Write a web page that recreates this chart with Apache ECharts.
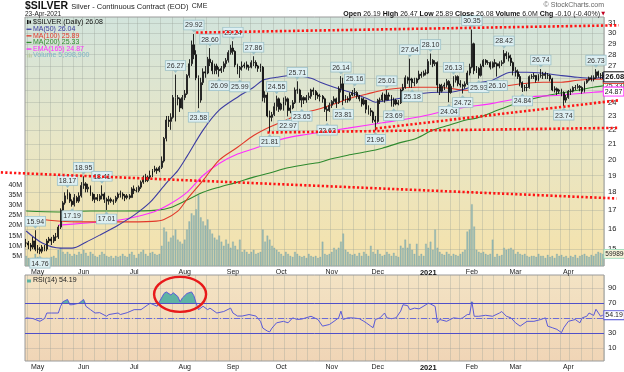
<!DOCTYPE html>
<html><head><meta charset="utf-8">
<script src="https://cdn.jsdelivr.net/npm/echarts@6/dist/echarts.min.js"></script>
<style>html,body{margin:0;padding:0;background:#fff}#c{width:624px;height:372px}</style>
</head><body><div id="c"></div>
<script>
// ---------- DATA ----------
const holidays = ['2020-05-25','2020-07-03','2020-09-07','2020-11-26','2020-12-25','2021-01-01','2021-01-18','2021-02-15','2021-04-02'];
const firstDay = '2020-04-24', lastDay = '2021-04-23';
const monthNames = ['2021','Feb','Mar','Apr','May','Jun','Jul','Aug','Sep','Oct','Nov','Dec'];
const priceTicks = [15,16,17,18,19,20,21,22,23,24,25,26,27,28,29,30,31];
const volumeTicks = [5,10,15,20,25,30,35,40];
const rsiTicks = [10,30,50,70,90];

// daily [open, close, low, high]
const ohlc = [
[15.3,15.3,15.1,15.5],[15.3,15.2,15.0,15.4],[15.2,15.1,14.9,15.3],[15.1,15.4,15.0,15.6],[15.4,15.0,14.9,15.94],[15.0,15.0,14.8,15.2],[15.0,14.9,14.76,15.1],[14.9,15.1,14.8,15.2],[15.1,15.0,14.9,15.2],[15.0,15.4,14.9,15.5],
[15.4,15.5,15.3,15.6],[15.5,15.4,15.2,15.6],[15.4,15.6,15.3,15.7],[15.6,15.6,15.4,15.8],[15.6,16.1,15.5,16.2],[16.1,17.0,16.0,17.1],[17.0,17.4,16.9,17.5],[17.4,17.8,17.3,18.0],[17.8,17.9,17.6,18.17],[17.9,17.5,17.4,18.0],
[17.5,17.3,17.19,17.6],[17.3,17.7,17.2,17.9],[17.7,17.5,17.4,17.8],[17.5,17.8,17.4,18.0],[17.8,18.4,17.7,18.6],[18.4,18.5,18.2,18.95],[18.5,18.2,18.0,18.6],[18.2,18.3,18.0,18.5],[18.3,17.9,17.8,18.4],[17.9,17.6,17.5,18.0],
[17.6,17.7,17.4,17.9],[17.7,17.6,17.5,17.9],[17.6,17.8,17.5,17.9],[17.8,17.9,17.6,18.41],[17.9,17.6,17.4,18.0],[17.6,17.5,17.01,17.7],[17.5,17.6,17.3,17.8],[17.6,17.5,17.4,17.7],[17.5,17.5,17.3,17.6],[17.5,17.7,17.4,17.8],
[17.7,17.9,17.6,18.0],[17.9,17.9,17.7,18.1],[17.9,17.8,17.6,18.0],[17.8,17.7,17.5,17.9],[17.7,17.8,17.6,17.9],[17.8,17.7,17.6,17.9],[17.7,18.2,17.7,18.3],[18.2,18.1,17.9,18.4],[18.1,18.1,18.0,18.3],[18.1,18.3,18.0,18.4],
[18.3,18.6,18.2,18.7],[18.6,18.9,18.5,19.0],[18.9,18.7,18.6,19.1],[18.7,18.9,18.6,19.0],[18.9,19.0,18.8,19.3],[19.0,19.3,18.9,19.4],[19.3,19.4,19.2,19.6],[19.4,19.3,19.1,19.5],[19.3,19.5,19.2,19.6],[19.5,19.9,19.4,20.2],
[19.9,21.4,19.8,21.5],[21.4,22.7,21.2,23.0],[22.7,22.6,22.2,23.0],[22.6,22.9,22.0,23.2],[22.9,24.4,22.8,24.6],[24.4,24.4,22.6,26.27],[24.4,24.3,23.8,24.6],[24.3,23.6,23.3,24.4],[23.6,24.4,23.5,24.6],[24.4,24.7,24.2,25.0],
[24.7,26.2,24.6,26.3],[26.2,27.2,26.0,27.6],[27.2,28.9,27.0,29.3],[28.9,28.0,27.6,29.92],[28.0,26.0,25.8,28.4],[26.0,24.2,23.58,26.2],[24.2,25.6,24.0,26.0],[25.6,26.5,25.4,26.8],[26.5,26.4,26.0,27.0],[26.4,27.6,26.3,27.8],
[27.6,27.3,27.0,28.6],[27.3,26.6,26.3,27.5],[26.6,27.0,26.3,27.2],[27.0,26.7,26.3,27.2],[26.7,26.6,26.09,26.9],[26.6,26.8,26.4,27.0],[26.8,27.2,26.5,27.4],[27.2,27.5,26.9,27.7],[27.5,28.2,27.3,28.4],[28.2,28.6,28.0,28.9],
[28.6,28.3,28.0,29.24],[28.3,27.1,26.9,28.4],[27.1,26.7,26.3,27.2],[26.7,26.9,25.99,27.0],[26.9,27.0,26.6,27.4],[27.0,27.1,26.8,27.3],[27.1,26.9,26.7,27.4],[26.9,26.9,26.6,27.1],[26.9,27.3,26.8,27.5],[27.3,27.3,27.0,27.86],
[27.3,27.0,26.8,27.5],[27.0,26.8,26.5,27.1],[26.8,26.9,26.5,27.2],[26.9,24.4,24.1,27.0],[24.4,24.6,24.0,24.9],[24.6,23.0,22.9,24.8],[23.0,22.9,21.81,23.4],[22.9,23.1,22.6,23.3],[23.1,23.7,23.0,24.0],[23.7,24.3,23.4,24.55],
[24.3,23.5,23.3,24.4],[23.5,23.9,23.4,24.0],[23.9,24.1,23.4,24.4],[24.1,24.3,23.8,24.5],[24.3,23.4,22.97,24.4],[23.4,23.6,23.2,23.8],[23.6,24.0,23.5,24.2],[24.0,25.0,23.9,25.2],[25.0,25.0,24.7,25.71],[25.0,24.2,24.0,25.1],
[24.2,24.4,23.65,24.6],[24.4,24.2,23.9,24.5],[24.2,24.4,24.0,24.6],[24.4,24.5,24.2,24.8],[24.5,25.0,24.3,25.1],[25.0,24.9,24.6,25.2],[24.9,24.6,24.2,25.0],[24.6,24.5,24.3,24.8],[24.5,24.5,24.1,24.7],[24.5,24.3,24.0,24.6],
[24.3,23.5,23.3,24.4],[23.5,23.4,22.62,23.7],[23.4,23.8,23.3,24.0],[23.8,24.1,23.6,24.2],[24.1,24.3,23.9,24.5],[24.3,24.0,23.6,24.4],[24.0,25.1,23.9,25.3],[25.1,25.5,24.8,26.14],[25.5,24.2,23.81,26.0],[24.2,24.3,24.0,24.6],
[24.3,24.2,24.0,24.5],[24.2,24.6,24.1,24.8],[24.6,24.8,24.5,25.0],[24.8,24.8,24.5,25.16],[24.8,24.5,24.3,24.9],[24.5,24.3,24.1,24.6],[24.3,23.9,23.7,24.4],[23.9,24.2,23.8,24.4],[24.2,23.5,23.2,24.2],[23.5,23.4,23.1,23.8],
[23.4,23.3,23.0,23.6],[23.3,22.7,22.5,23.4],[22.7,22.6,21.96,23.0],[22.6,24.2,22.5,24.3],[24.2,24.2,23.9,24.4],[24.2,24.6,24.1,24.8],[24.6,24.2,24.0,24.7],[24.2,24.6,24.2,25.01],[24.6,24.5,24.2,24.8],[24.5,23.9,23.7,24.6],
[23.9,24.2,23.69,24.4],[24.2,23.9,23.8,24.3],[23.9,24.0,23.8,24.2],[24.0,25.0,23.9,25.1],[25.0,25.2,24.9,25.5],[25.2,26.0,25.1,26.2],[26.0,25.8,25.5,26.1],[25.8,25.9,25.2,27.64],[25.9,25.6,25.18,26.0],[25.6,25.6,25.3,26.0],
[25.6,25.9,25.5,26.0],[25.9,26.3,25.8,26.6],[26.3,26.2,26.0,26.5],[26.2,26.4,26.1,26.6],[26.4,26.4,26.2,26.7],[26.4,27.4,26.3,27.6],[27.4,27.5,27.1,28.1],[27.5,27.2,26.9,27.6],[27.2,27.3,27.0,27.5],[27.3,25.4,24.8,27.4],
[25.4,24.9,24.6,25.5],[24.9,25.3,24.8,25.5],[25.3,25.4,25.0,25.6],[25.4,25.7,25.2,25.9],[25.7,24.8,24.04,25.8],[24.8,25.3,24.7,25.5],[25.3,25.8,25.2,26.13],[25.8,26.1,25.6,26.2],[26.1,25.5,25.3,26.2],[25.5,25.4,25.2,25.8],
[25.4,25.3,24.72,25.5],[25.3,25.5,25.1,25.7],[25.5,26.4,25.4,26.6],[26.4,26.9,26.2,27.2],[26.9,29.0,26.8,30.35],[29.0,26.6,26.3,29.1],[26.6,26.8,26.4,27.0],[26.8,26.2,25.93,26.9],[26.2,27.0,26.1,27.2],[27.0,27.5,26.9,27.6],
[27.5,27.3,27.1,27.6],[27.3,27.3,27.1,27.5],[27.3,26.9,26.7,27.4],[26.9,27.3,26.8,27.4],[27.3,27.2,26.9,27.6],[27.2,27.0,26.1,27.3],[27.0,27.2,26.8,27.4],[27.2,27.3,27.0,27.5],[27.3,28.1,27.2,28.42],[28.1,27.9,27.6,28.3],
[27.9,27.7,27.4,28.2],[27.7,27.3,27.0,28.0],[27.3,26.6,26.2,27.4],[26.6,26.5,26.1,26.9],[26.5,26.1,25.9,26.7],[26.1,25.6,25.3,26.3],[25.6,25.2,24.84,25.7],[25.2,25.2,24.9,25.4],[25.2,25.2,24.9,25.5],[25.2,26.1,25.1,26.2],
[26.1,26.1,25.9,26.3],[26.1,26.2,25.9,26.4],[26.2,25.8,25.6,26.2],[25.8,26.2,25.7,26.3],[26.2,26.2,26.0,26.74],[26.2,26.3,25.9,26.5],[26.3,26.2,25.9,26.5],[26.2,26.2,25.9,26.4],[26.2,25.9,25.7,26.3],[25.9,25.0,24.9,26.0],
[25.0,25.1,24.8,25.3],[25.1,24.9,24.6,25.2],[24.9,25.0,24.7,25.1],[25.0,24.8,24.5,25.1],[24.8,24.2,23.74,24.9],[24.2,24.4,24.0,24.6],[24.4,24.9,24.3,25.0],[24.9,24.9,24.6,25.1],[24.9,25.2,24.8,25.3],[25.2,25.2,25.0,25.4],
[25.2,25.3,25.1,25.5],[25.3,25.2,24.9,25.4],[25.2,24.9,24.7,25.3],[24.9,25.6,24.8,25.7],[25.6,25.8,25.5,25.9],[25.8,26.0,25.7,26.1],[26.0,25.9,25.7,26.2],[25.9,26.0,25.7,26.2],[26.0,26.5,25.9,26.73],[26.5,26.2,26.0,26.6],
[26.2,26.2,25.9,26.4],[26.19,26.08,25.89,26.47]
];

// volume, millions
const volume = [
5,4,3.5,4,6,4.5,3.5,4,3,4,
3.5,4.5,5,4,8,9,7,6,7,6,
5,6,5.5,7,6,8,6.5,5,7,6,
5,4.5,5.5,7,6,5,4.5,5,4,5,
4.5,5,6,5,4.5,6,7,5.5,4,6,
7,8,6,5,6.5,7,6,5.5,6,10,
19,17,12,14,15,18,13,12,11,13,
18,22,26,25,28,35,24,22,20,23,
18,16,14,13,15,12,10,13,11,9,
12,10,8,13,7,8,7,6,7,8,
6,6.5,7,18,12,15,13,10,9,8,
7,6,5,7,6,5,4.5,7,6,5,
4.5,5,4,6,5,4.5,5,4,4.5,12,
6,5.5,6,7,9,8,9,12,16,8,
7,6,5.5,6,5,6.5,5,7,6,5,
10,7,6,8,6,5,5.5,7,6,5,
6.5,5,4.5,10,9,13,9,11,8,6,
11,5,6,5,11,9,12,8,18,9,
7,6,5.5,7,6,5,6,5.5,5,6,
7,8,17,18,30.5,19.5,8,7,6.5,7,
6,5.5,6,13,4.5,6,5,5.5,9,8,
8.5,9,8,6,7,6,5.5,6,5,4.5,
5,5,4.5,6,5,5,4,5.5,4.5,5,
4,6,5,5.5,4.5,5,4,5,4.5,5.5,
4,5,5.5,6,5,4.5,5.5,5,6,7,
6.5,6
];

// moving averages: [bar index, value]
const ma50 = [[0,15.9],[7,15.3],[15,15.05],[20,15.05],[26,15.34],[32,15.69],[40,16.2],[47,16.73],[54,17.44],[61,18.54],[66,19.3],[70,20.2],[77,21.98],[84,23.43],[92,24.43],[99,25.22],[103,25.8],[109,26.04],[116,26.21],[124,25.96],[128,25.63],[134,25.22],[141,24.82],[148,24.35],[152,24.04],[158,24.19],[165,24.43],[173,24.74],[180,24.82],[184,24.82],[192,25.14],[196,25.55],[203,25.8],[211,26.47],[218,26.47],[225,26.38],[232,26.21],[240,26.04],[247,25.96],[251,26.04]];
const ma100 = [[0,16.62],[10,16.46],[22,16.37],[40,16.37],[55,16.4],[60,16.5],[66,16.95],[70,17.6],[77,18.7],[84,19.96],[92,20.8],[99,21.6],[106,22.2],[113,22.69],[120,23.2],[127,23.5],[134,23.9],[141,24.35],[148,24.66],[155,24.98],[162,25.14],[170,25.22],[177,25.22],[184,25.14],[191,24.98],[196,24.98],[203,25.14],[211,25.39],[218,25.55],[225,25.63],[233,25.63],[240,25.8],[247,25.88],[251,25.89]];
const ma200 = [[0,16.95],[14,16.9],[28,16.95],[43,16.95],[57,17.0],[63,17.15],[70,17.56],[77,18.0],[84,18.3],[92,18.6],[99,18.9],[106,19.15],[113,19.45],[120,19.64],[128,19.83],[133,20.05],[140,20.28],[148,20.5],[155,20.74],[162,21.08],[170,21.42],[177,21.98],[184,22.33],[191,22.69],[196,22.84],[203,23.28],[211,23.81],[218,24.19],[225,24.5],[232,24.74],[240,24.98],[247,25.22],[251,25.33]];
const ema165 = [[14,16.2],[25,16.3],[40,16.46],[54,16.84],[62,17.3],[70,18.0],[77,19.0],[84,19.75],[92,20.35],[99,20.7],[106,21.1],[113,21.42],[120,21.63],[128,21.83],[140,22.12],[155,22.5],[170,22.9],[184,23.43],[191,23.65],[203,23.95],[218,24.43],[232,24.58],[247,24.82],[251,24.87]];

// RSI(14): [bar index, value]
const rsi = [[0,50.6],[3,49.6],[6,46],[8,49.6],[9,57],[11,57],[14,57],[15,66],[16,72],[18,75],[19,68],[20,68],[23,70],[25,75],[26,66],[28,61.5],[30,57],[32,57.5],[35,52.7],[36,55],[40,57],[41,55],[44,57.5],[47,61.5],[50,61.5],[53,68],[54,70],[57,66],[58,72],[60,83],[61,85],[63,81],[64,84],[66,79],[67,72],[68,77],[70,83],[72,85],[73,80],[74,70],[75,61.5],[77,66],[79,61.5],[80,63.5],[83,57],[86,59],[89,63.5],[90,57],[92,53],[94,53],[97,55],[100,53],[102,46],[103,37],[105,33],[106,32],[107,37],[109,44],[112,46],[114,44],[116,50.6],[118,48.4],[120,49],[124,52.7],[127,48.4],[129,39.6],[132,41.8],[134,46],[136,50.6],[137,59.5],[138,48.4],[140,50.6],[142,50.6],[145,49.5],[147,46],[148,44],[150,39.6],[151,37.5],[152,48.4],[154,50.6],[156,57],[157,50.6],[159,49.5],[161,50.6],[163,59.5],[164,68],[166,66.9],[167,61.5],[169,63.5],[171,62.5],[174,68],[175,70],[176,69],[178,65.8],[179,44],[180,48.4],[183,46],[186,50.6],[189,49.5],[190,50.6],[192,55],[193,55],[194,72],[195,52.7],[197,52.7],[200,54],[203,52.7],[206,57],[207,59],[209,52.7],[211,50.6],[213,44],[215,39.6],[218,46],[221,46],[224,48.4],[226,50.6],[227,39.6],[229,37.5],[231,35.3],[233,31],[234,37.5],[236,46],[239,48.4],[241,44],[242,50.6],[244,52.7],[245,57],[247,53.8],[248,62],[250,52.7],[251,54.19]];

// labelled highs and lows: [bar index, price]
const highLabels = [[4,15.94],[18,18.17],[25,18.95],[33,18.41],[65,26.27],[73,29.92],[80,28.60],[90,29.24],[99,27.86],[109,24.55],[118,25.71],[137,26.14],[143,25.16],[157,25.01],[167,27.64],[176,28.10],[186,26.13],[194,30.35],[208,28.42],[224,26.74],[248,26.73]];
const lowLabels = [[6,14.76],[20,17.19],[35,17.01],[75,23.58],[84,26.09],[93,25.99],[106,21.81],[114,22.97],[120,23.65],[131,22.62],[138,23.81],[152,21.96],[160,23.69],[168,25.18],[184,24.04],[190,24.72],[197,25.93],[205,26.10],[216,24.84],[234,23.74]];

// hand-drawn trend lines: [[bar index, price], [bar index, price]]
const trendLines = [
  [[73.5,30.06],[258.4,30.77]],
  [[105.2,21.81],[258.4,22.14]],
  [[151.8,22.09],[258.4,24.19]],
  [[-11.4,19.19],[257.1,17.65]]
];
// red ellipse around overbought RSI: centre [bar index, RSI]
const ellipseCentre = [66.9, 81.8];

// ---------- BUILD ----------
function tradingDays(s, e){
  const out=[]; let d=new Date(s+'T00:00:00Z'); const end=new Date(e+'T00:00:00Z');
  while(d<=end){ const dow=d.getUTCDay(); const iso=d.toISOString().slice(0,10);
    if(dow!==0&&dow!==6&&holidays.indexOf(iso)<0) out.push(iso);
    d=new Date(d.getTime()+86400000);}
  return out;
}
const dates = tradingDays(firstDay, lastDay);
const dow = i => new Date(dates[i]+'T00:00:00Z').getUTCDay();
const isMonthStart = i => i>0 && dates[i].slice(5,7)!==dates[i-1].slice(5,7);
const isWeekStart = i => i>0 && dow(i) < dow(i-1);
const L = Math.log;
const fmtMonth = (v) => { const m = +v.slice(5,7); return m===1 ? '{y|2021}' : monthNames[m-1]; };

const FONT = 'Liberation Sans';
const C50='#3c3ca2', C100='#e2382a', C200='#2e8a2e', CEMA='#ff2cff', CVOL='#7fb4c6', CRSI='#5a5ad8';

const boxLabel = {show:true, fontSize:7, color:'#333', fontFamily:FONT, backgroundColor:'#ddeff2', borderColor:'#9cc0c6', borderWidth:0.8, padding:[1,1,0,1], lineHeight:8};
const markPts = [];
highLabels.forEach(([i,v])=>markPts.push({coord:[i,L(v)], symbol:'triangle', symbolSize:[5,3], symbolRotate:180, symbolOffset:[0,-3], itemStyle:{color:'#9cc0c6'}, label:Object.assign({},boxLabel,{position:'top',distance:0,formatter:v.toFixed(2)})}));
lowLabels.forEach(([i,v])=>markPts.push({coord:[i,L(v)], symbol:'triangle', symbolSize:[5,3], symbolOffset:[0,3], itemStyle:{color:'#9cc0c6'}, label:Object.assign({},boxLabel,{position:'bottom',distance:0,formatter:v.toFixed(2)})}));
const last = ohlc[ohlc.length-1];
markPts.push({coord:[ohlc.length-1, L(last[1])], symbol:'rect', symbolSize:1, itemStyle:{color:'rgba(0,0,0,0)'}, z:20,
  label:{show:true, position:'right', distance:1, formatter:last[1].toFixed(2), fontSize:7.5, fontWeight:'bold', color:'#111', fontFamily:FONT, backgroundColor:'#fff', borderColor:'#222', borderWidth:1, padding:[1,1,0,1]}});

const endLbl = (c, t) => ({show:true, formatter:t, distance:1, fontSize:7, color:'#222', fontFamily:FONT, backgroundColor:'#fff', borderColor:c, borderWidth:1, padding:[1,1,0,1]});
const maSeries = (name, data, c, t, z) => ({name, type:'line', xAxisIndex:0, yAxisIndex:0, data:data.map(([i,v])=>[i,L(v)]), showSymbol:false, symbol:'none', smooth:0.3, lineStyle:{color:c, width:1.1}, z, endLabel:endLbl(c,t), silent:true});

const weekLine = {show:true, interval:(idx)=>isWeekStart(idx), lineStyle:{color:'rgba(150,160,150,0.32)', width:1}};

const option = {
  animation:false,
  textStyle:{fontFamily:FONT},
  grid:[
    {left:25, right:20, top:17, height:249, show:true, borderColor:'#9a9a9a', borderWidth:1,
     backgroundColor:{type:'linear',x:0,y:0,x2:0,y2:1,colorStops:[{offset:0,color:'#d2e4dc'},{offset:0.5,color:'#e8e6c6'},{offset:1,color:'#f5e2ab'}]}},
    {left:25, right:20, top:275, height:87, show:true, borderColor:'#9a9a9a', borderWidth:1,
     backgroundColor:{type:'linear',x:0,y:0,x2:0,y2:1,colorStops:[{offset:0,color:'#f3e3c4'},{offset:1,color:'#f0d5b6'}]}}
  ],
  xAxis:[
    {type:'category', gridIndex:0, data:dates, boundaryGap:true, axisLine:{show:false}, axisTick:{show:false}, splitLine:weekLine,
     axisLabel:{interval:(idx)=>isMonthStart(idx), formatter:fmtMonth, fontSize:7, color:'#222', margin:3, rich:{y:{fontWeight:'bold',fontSize:7.5,color:'#111'}}}},
    {type:'category', gridIndex:1, data:dates, boundaryGap:true, axisLine:{show:false}, axisTick:{show:false}, splitLine:weekLine,
     axisLabel:{interval:(idx)=>isMonthStart(idx), formatter:fmtMonth, fontSize:7, color:'#222', margin:3, rich:{y:{fontWeight:'bold',fontSize:7.5,color:'#111'}}}}
  ],
  yAxis:[
    {type:'value', gridIndex:0, position:'right', min:L(14.21), max:L(31.6), axisLine:{show:false},
     axisTick:{show:false, customValues:priceTicks.map(L)},
     axisLabel:{customValues:priceTicks.map(L), formatter:v=>String(Math.round(Math.exp(v))), fontSize:7.5, color:'#222', margin:4},
     splitLine:{show:true, lineStyle:{color:'rgba(150,160,150,0.32)', width:1}}},
    {type:'value', gridIndex:0, position:'left', min:0, max:123, axisLine:{show:false}, axisTick:{show:false},
     axisLabel:{customValues:volumeTicks, formatter:v=>v+'M', fontSize:7, color:'#222', margin:3}, splitLine:{show:false}},
    {type:'value', gridIndex:1, position:'right', min:-6.7, max:107.5, axisLine:{show:false},
     axisTick:{show:false, customValues:rsiTicks},
     axisLabel:{customValues:rsiTicks, formatter:v=>Math.round(v)===50?'':String(Math.round(v)), fontSize:7.5, color:'#222', margin:4},
     splitLine:{show:true, lineStyle:{color:'rgba(150,150,150,0.3)', width:1}}}
  ],
  series:[
    {name:'Volume', type:'bar', xAxisIndex:0, yAxisIndex:1, data:volume, barWidth:'72%', z:1, silent:true,
     itemStyle:{color:'#97b9b3', borderColor:'#84a8a2', borderWidth:0.3},
     markPoint:{silent:true, data:[{coord:[volume.length-1, volume[volume.length-1]], symbol:'rect', symbolSize:1, itemStyle:{color:'rgba(0,0,0,0)'},
       label:{show:true, position:'right', distance:1, formatter:'5998900', fontSize:6.5, color:'#222', backgroundColor:'#f6f3da', borderColor:'#9db', borderWidth:0.8, padding:[1,1,0,1]}}]}},
    maSeries('MA(200)', ma200, C200, '25.33', 3),
    maSeries('EMA(165)', ema165, CEMA, '24.87', 3),
    maSeries('MA(100)', ma100, C100, '25.89', 3),
    maSeries('MA(50)', ma50, C50, '26.04', 3),
    {name:'SILVER', type:'candlestick', xAxisIndex:0, yAxisIndex:0, z:5, silent:true,
     data:ohlc.map(r=>r.map(L)), barWidth:'62%',
     itemStyle:{color:'#ffffff', color0:'#111111', borderColor:'#111111', borderColor0:'#111111', borderWidth:0.9},
     markPoint:{silent:true, z:10, data:markPts}},
    {name:'RSIfill', type:'line', xAxisIndex:1, yAxisIndex:2, data:rsi.map(([i,v])=>[i,Math.max(v,70)]), showSymbol:false, symbol:'none',
     lineStyle:{width:0, opacity:0}, areaStyle:{origin:70, color:'#5eb3a4', opacity:1}, z:2, silent:true},
    {name:'RSI', type:'line', xAxisIndex:1, yAxisIndex:2, data:rsi, showSymbol:false, symbol:'none', lineStyle:{color:CRSI, width:1}, z:4, silent:true,
     markLine:{silent:true, symbol:'none', label:{show:false}, data:[
       {yAxis:70, lineStyle:{color:'#5050c8', width:1, type:'solid'}},
       {yAxis:30, lineStyle:{color:'#5050c8', width:1, type:'solid'}},
       {yAxis:50, lineStyle:{color:'#6a6ad8', width:1, type:[6,2,1,2]}}]},
     markPoint:{silent:true, data:[{coord:[rsi[rsi.length-1][0], rsi[rsi.length-1][1]], symbol:'rect', symbolSize:1, itemStyle:{color:'rgba(0,0,0,0)'},
       label:{show:true, position:'right', distance:1, formatter:'54.19', fontSize:7, color:'#222', backgroundColor:'#fff', borderColor:CRSI, borderWidth:1, padding:[1,1,0,1]}}]}}
  ]
};

const chart = echarts.init(document.getElementById('c'), null, {renderer:'canvas'});
chart.setOption(option);

// ---------- ANNOTATIONS / TEXT ----------
const g = [];
const px = (p) => chart.convertToPixel({xAxisIndex:0, yAxisIndex:0}, [p[0], L(p[1])]);
trendLines.forEach(([a,b])=>{
  const p1 = px(a), p2 = px(b);
  g.push({type:'line', z:50, silent:true, shape:{x1:p1[0],y1:p1[1],x2:p2[0],y2:p2[1]}, style:{stroke:'#ff1414', lineWidth:2.6, lineDash:[2.2,2.2]}});
});
const ec = chart.convertToPixel({xAxisIndex:1, yAxisIndex:2}, ellipseCentre);
g.push({type:'ellipse', z:50, silent:true, shape:{cx:ec[0], cy:ec[1], rx:26, ry:17.5}, style:{fill:null, stroke:'#e8191a', lineWidth:2.4}});

// header
g.push({type:'text', x:25, y:0.5, z:60, style:{text:'{a|$SILVER} {b|Silver - Continuous Contract (EOD)} {c|CME}', rich:{
  a:{fontSize:10.5, fontWeight:'bold', fill:'#111', fontFamily:FONT},
  b:{fontSize:7.5, fill:'#222', fontFamily:FONT},
  c:{fontSize:7, fill:'#222', fontFamily:FONT}}}});
g.push({type:'text', x:25, y:11, z:60, style:{text:'23-Apr-2021', fontSize:6.5, fill:'#222', fontFamily:FONT}});
g.push({type:'text', x:604, y:1.5, z:60, style:{text:'© StockCharts.com', fontSize:7, fill:'#666', fontFamily:FONT, align:'right'}});
g.push({type:'text', x:600, y:10.5, z:60, style:{align:'right',
  text:'{k|Open} 26.19 {k|High} 26.47 {k|Low} 25.89 {k|Close} 26.08 {k|Volume} 6.0M {k|Chg} -0.10 (-0.40%)',
  fontSize:7, fill:'#222', fontFamily:FONT, rich:{k:{fontWeight:'bold', fontSize:7, fill:'#111', fontFamily:FONT}}}});
g.push({type:'text', x:605, y:11, z:60, style:{text:'▼', fontSize:5, fill:'#c00020', fontFamily:'DejaVu Sans', align:'right'}});

// legend inside price panel
const legend = [['$SILVER (Daily) 26.08','#111','candle'],['MA(50) 26.04',C50],['MA(100) 25.89',C100],['MA(200) 25.33',C200],['EMA(165) 24.87',CEMA],['Volume 5,998,900',CVOL,'vol']];
legend.forEach(([t,c,k],n)=>{
  const y = 19 + n*6.6;
  if(k==='candle'){
    g.push({type:'rect', z:60, shape:{x:27,y:y+1,width:1.5,height:4}, style:{fill:'#111'}});
    g.push({type:'rect', z:60, shape:{x:29.5,y:y+1.5,width:1.5,height:3}, style:{fill:'#111'}});
  } else if(k==='vol'){
    g.push({type:'rect', z:60, shape:{x:27,y:y+3,width:1.2,height:2.5}, style:{fill:'#b9c9a0'}});
    g.push({type:'rect', z:60, shape:{x:28.8,y:y+1.5,width:1.2,height:4}, style:{fill:'#b9c9a0'}});
    g.push({type:'rect', z:60, shape:{x:30.6,y:y+2.5,width:1.2,height:3}, style:{fill:'#b9c9a0'}});
  } else {
    g.push({type:'rect', z:60, shape:{x:26.5,y:y+3,width:5,height:1.3}, style:{fill:c}});
  }
  g.push({type:'text', x:33, y:y, z:60, style:{text:t, fontSize:7, fill:c, fontFamily:FONT}});
});
// RSI panel label
g.push({type:'rect', z:60, shape:{x:27,y:279.5,width:4,height:3}, style:{fill:'#5eb3a4'}});
g.push({type:'text', x:33, y:277, z:60, style:{text:'RSI(14) 54.19', fontSize:7, fill:'#222', fontFamily:FONT}});

chart.setOption({graphic:g});
</script></body></html>
